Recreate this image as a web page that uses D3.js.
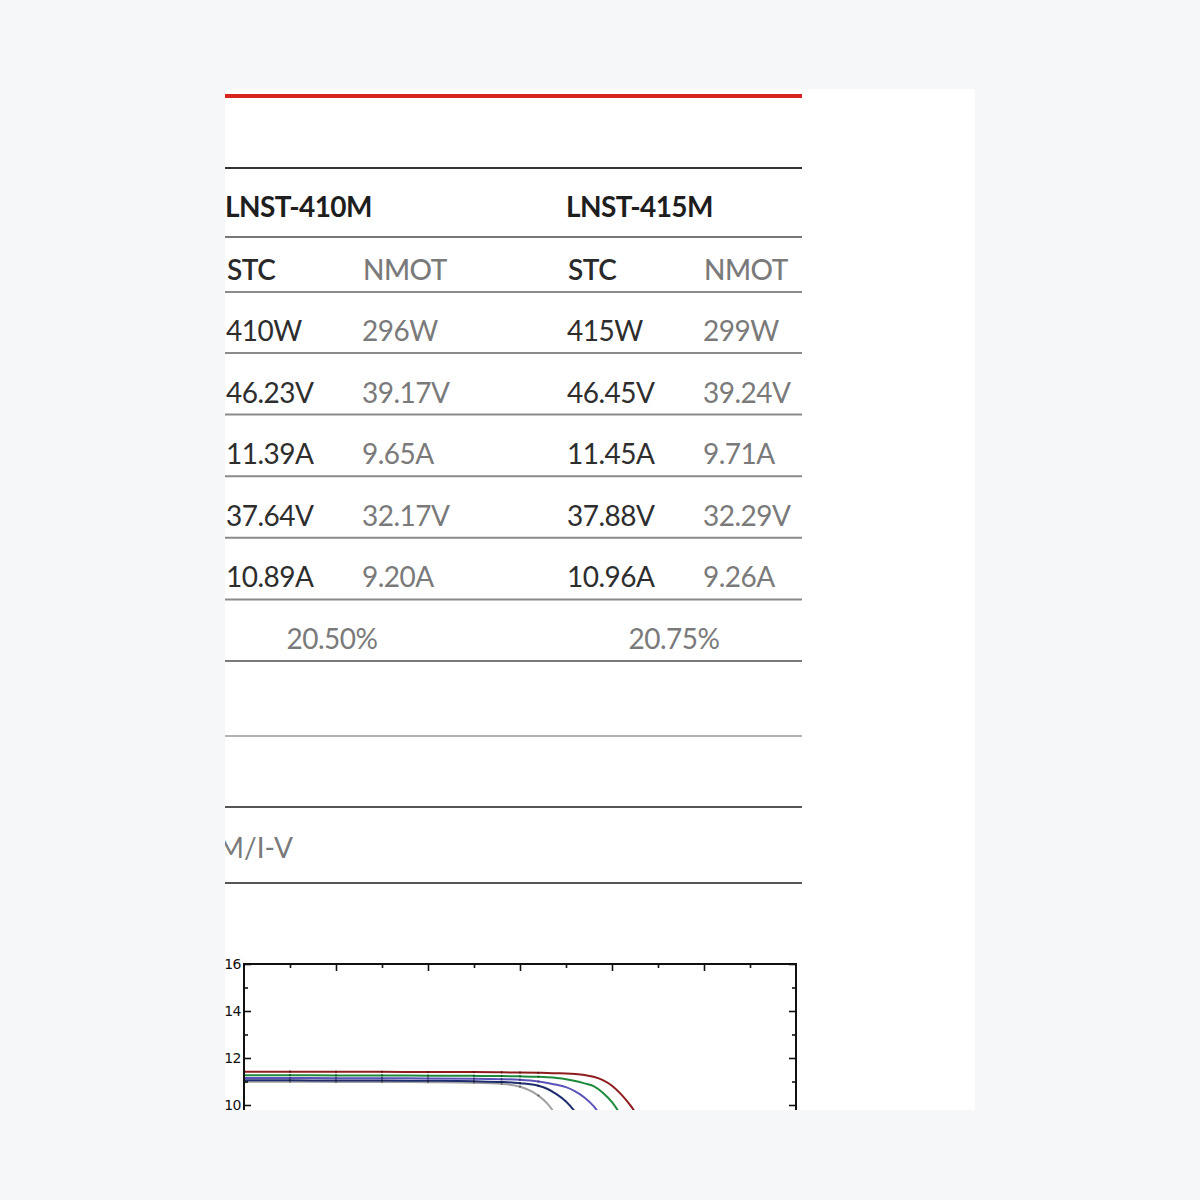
<!DOCTYPE html>
<html>
<head>
<meta charset="utf-8">
<script src="https://cdn.jsdelivr.net/npm/d3@7"></script>
<style>
  html, body { margin: 0; padding: 0; background: #f5f7f9; }
  svg { display: block; }
  text { font-family: Lato, "Open Sans", sans-serif; }
</style>
</head>
<body>
<div id="sheet"></div>
<script>
// Table data
const models = ["LNST-410M", "LNST-415M"];
const conditions = ["STC", "NMOT"];
const stcValues = [
    ["410W", "46.23V", "11.39A", "37.64V", "10.89A"],
    ["415W", "46.45V", "11.45A", "37.88V", "10.96A"]
];
const nmotValues = [
    ["296W", "39.17V", "9.65A", "32.17V", "9.20A"],
    ["299W", "39.24V", "9.71A", "32.29V", "9.26A"]
];
const efficiencies = ["20.50%", "20.75%"];
const curveTitle = "LNST-410M/I-V";

// I-V curves (voltage in V, current in A)
const voltages = [0, 5, 10, 15, 20, 25, 28, 30, 32, 33, 34, 35, 36, 37, 38, 39, 40, 41, 42, 43, 44];
const currentGray   = [10.99, 10.99, 10.98, 10.98, 10.97, 10.95, 10.90, 10.78, 10.40, 10.05, 9.50, 8.80, 8.00, 7.10, 6.00, 4.80, 3.50, 2.10, 0.70, 0, 0];
const currentNavy   = [11.05, 11.05, 11.04, 11.04, 11.03, 11.01, 10.98, 10.93, 10.82, 10.68, 10.45, 10.15, 9.70, 9.10, 8.30, 7.40, 6.30, 5.00, 3.60, 2.00, 0.40];
const currentPurple = [11.15, 11.15, 11.14, 11.14, 11.13, 11.12, 11.10, 11.07, 11.00, 10.94, 10.86, 10.76, 10.58, 10.32, 9.95, 9.40, 8.70, 7.80, 6.80, 5.60, 4.20];
const currentGreen  = [11.27, 11.27, 11.26, 11.26, 11.25, 11.24, 11.23, 11.22, 11.20, 11.18, 11.15, 11.10, 11.02, 10.92, 10.80, 10.52, 10.12, 9.55, 8.90, 8.10, 7.10];
const currentRed    = [11.42, 11.42, 11.41, 11.41, 11.40, 11.40, 11.39, 11.38, 11.37, 11.36, 11.35, 11.34, 11.32, 11.28, 11.20, 11.06, 10.82, 10.45, 9.98, 9.40, 8.70];
const seriesColors = ["#a0a0a0", "#1f2d6e", "#5b53b8", "#1f8a3c", "#8e1c1c"];
const yMajorTicks = [10, 12, 14, 16];
const yMinorTicks = [11, 13, 15];

const svg = d3.select("#sheet").append("svg")
    .attr("width", 1200)
    .attr("height", 1200);

// white page area, everything outside is cut away
svg.append("defs").append("clipPath")
    .attr("id", "page")
    .append("rect")
    .attr("x", 225).attr("y", 89)
    .attr("width", 750).attr("height", 1021);

svg.append("rect")
    .attr("x", 225).attr("y", 89)
    .attr("width", 750).attr("height", 1021)
    .attr("fill", "#ffffff");

const page = svg.append("g").attr("clip-path", "url(#page)");

function hline(y, color, width) {
    page.append("line")
        .attr("x1", 0).attr("x2", 802)
        .attr("y1", y).attr("y2", y)
        .attr("stroke", color)
        .attr("stroke-width", width);
}

hline(96, "#d8261d", 4);
hline(168, "#333", 2);
hline(237, "#777", 2);
hline(292, "#8a8a8a", 2);

const colX = [226, 362, 567, 703];
const rowStep = 61.6;

// model headings
page.selectAll("text.model")
    .data(models)
    .enter().append("text")
    .attr("class", "model")
    .attr("x", (d, i) => colX[i * 2] - 1)
    .attr("y", 217)
    .attr("font-size", 28)
    .attr("font-weight", 700)
    .attr("letter-spacing", -0.6)
    .attr("fill", "#1e1e1e")
    .text(d => d);

// STC / NMOT headings
models.forEach((m, mi) => {
    conditions.forEach((c, ci) => {
        page.append("text")
            .attr("x", colX[mi * 2 + ci] + 1)
            .attr("y", 280)
            .attr("font-size", 28)
            .attr("font-weight", ci == 0 ? 600 : 500)
            .attr("letter-spacing", -0.5)
            .attr("fill", ci == 0 ? "#2a2a2a" : "#7a7a7a")
            .text(c);
    });
});

// value rows
stcValues[0].forEach((v, ri) => {
    let base = 341 + ri * rowStep;
    models.forEach((m, mi) => {
        page.append("text")
            .attr("x", colX[mi * 2])
            .attr("y", base)
            .attr("font-size", 28)
            .attr("letter-spacing", -0.5)
            .attr("fill", "#2e2e2e")
            .text(stcValues[mi][ri]);
        page.append("text")
            .attr("x", colX[mi * 2 + 1])
            .attr("y", base)
            .attr("font-size", 28)
            .attr("letter-spacing", -0.5)
            .attr("fill", "#7a7a7a")
            .text(nmotValues[mi][ri]);
    });
    hline(353 + ri * rowStep, "#8a8a8a", 2);
});

// efficiency
let effY = 341 + stcValues[0].length * rowStep;
page.selectAll("text.eff")
    .data(efficiencies)
    .enter().append("text")
    .attr("class", "eff")
    .attr("x", (d, i) => i == 0 ? 332 : 674)
    .attr("y", effY)
    .attr("text-anchor", "middle")
    .attr("font-size", 28)
    .attr("letter-spacing", -0.5)
    .attr("fill", "#7a7a7a")
    .text(d => d);
hline(661, "#7a7a7a", 2);

hline(736, "#9a9a9a", 1.5);
hline(807, "#555", 2);

page.append("text")
    .attr("x", 293)
    .attr("y", 858)
    .attr("text-anchor", "end")
    .attr("font-size", 28)
    .attr("fill", "#7a7a7a")
    .text(curveTitle);
hline(883, "#555", 2);

// I-V chart
const x = d3.scaleLinear().domain([0, 60]).range([244, 796]);
const y = d3.scaleLinear().domain([0, 16]).range([1340, 964]);

const chart = page.append("g");

const curves = [currentGray, currentNavy, currentPurple, currentGreen, currentRed];
const line = d3.line()
    .x(d => x(d[0]))
    .y(d => y(d[1]))
    .curve(d3.curveMonotoneX);

chart.selectAll("path.iv")
    .data(curves)
    .enter().append("path")
    .attr("class", "iv")
    .attr("fill", "none")
    .attr("stroke", (d, i) => seriesColors[i])
    .attr("stroke-width", 2)
    .attr("d", d => line(voltages.map((v, i) => [v, d[i]])));

// small point markers along the curves, as in the scan
curves.forEach((c, ci) => {
    chart.selectAll(null)
        .data(voltages.filter(v => v <= 32).map((v, i) => [v, c[i]]))
        .enter().append("circle")
        .attr("cx", d => x(d[0]))
        .attr("cy", d => y(d[1]))
        .attr("r", 1.1)
        .attr("fill", d3.color(seriesColors[ci]).darker(1.2));
});

function styleAxis(g) {
    g.select(".domain").remove();
    g.selectAll(".tick line").attr("stroke", "#111").attr("stroke-width", 1.6);
    g.selectAll(".tick text")
        .style("font-family", "'DejaVu Sans', sans-serif")
        .style("font-size", "14px")
        .style("letter-spacing", "-0.5px")
        .attr("fill", "#111");
}

// top ticks (inward)
chart.append("g")
    .attr("transform", "translate(0,964)")
    .call(d3.axisBottom(x).tickValues(d3.range(5, 60, 10)).tickSize(4).tickFormat(""))
    .call(styleAxis);
chart.append("g")
    .attr("transform", "translate(0,964)")
    .call(d3.axisBottom(x).tickValues(d3.range(10, 60, 10)).tickSize(7).tickFormat(""))
    .call(styleAxis);

// left ticks with labels
chart.append("g")
    .attr("transform", "translate(244,0)")
    .call(d3.axisLeft(y).tickValues(yMajorTicks).tickSize(-7).tickPadding(3).tickFormat(d3.format("d")))
    .call(styleAxis);
chart.append("g")
    .attr("transform", "translate(244,0)")
    .call(d3.axisLeft(y).tickValues(yMinorTicks).tickSize(-4).tickFormat(""))
    .call(styleAxis);

// right ticks
chart.append("g")
    .attr("transform", "translate(796,0)")
    .call(d3.axisLeft(y).tickValues(yMajorTicks).tickSize(7).tickFormat(""))
    .call(styleAxis);
chart.append("g")
    .attr("transform", "translate(796,0)")
    .call(d3.axisLeft(y).tickValues(yMinorTicks).tickSize(4).tickFormat(""))
    .call(styleAxis);

chart.append("rect")
    .attr("x", x(0)).attr("y", y(16))
    .attr("width", x(60) - x(0))
    .attr("height", y(0) - y(16))
    .attr("fill", "none")
    .attr("stroke", "#111")
    .attr("stroke-width", 2);
</script>
</body>
</html>
